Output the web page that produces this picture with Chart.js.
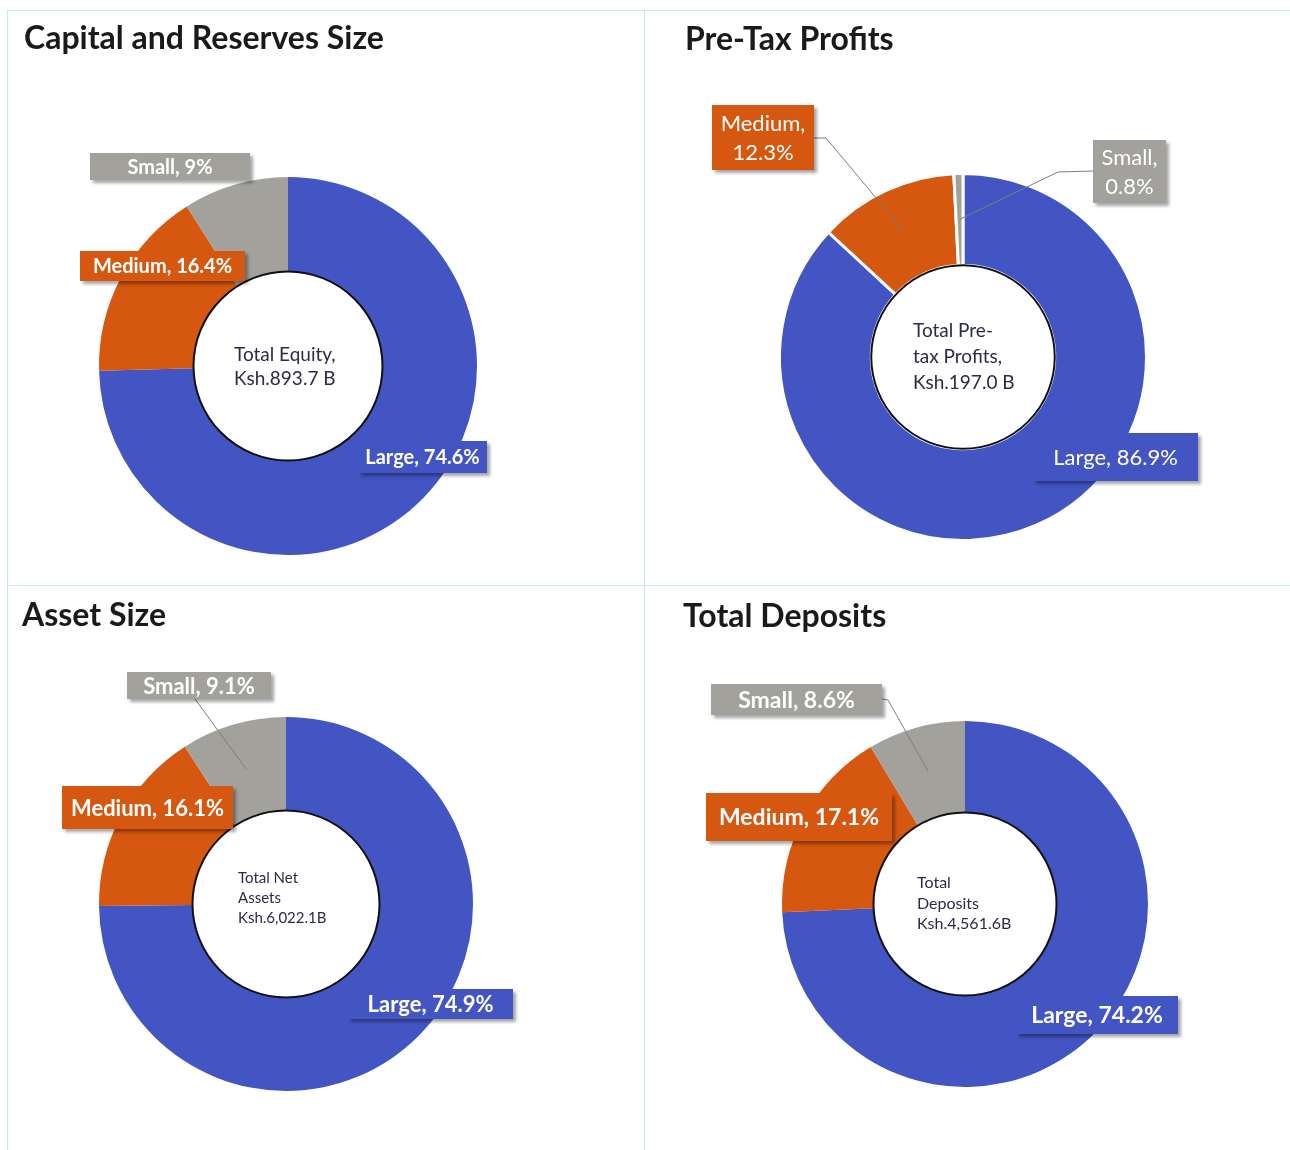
<!DOCTYPE html>
<html lang="en">
    <head>
        <script src="https://cdn.jsdelivr.net/npm/chart.js@4.4.0/dist/chart.umd.min.js"></script>
        <title>Bank size groups</title>
        <style>
            body { margin: 0; background: #fff; width: 1290px; height: 1150px; position: relative; overflow: hidden; }
            .panel { position: absolute; }
            .panel canvas { position: absolute; left: 0; top: 0; }
            .title { position: absolute; font-family: Lato, sans-serif; font-weight: bold; font-size: 32px; color: #1a1a1a; white-space: nowrap; }
            .rule { position: absolute; background: #c4ebf0; }
        </style>
    </head>
    <body>
        <div class="rule" style="left:7px; top:10px; width:1283px; height:1px;"></div>
        <div class="rule" style="left:7px; top:585px; width:1283px; height:1px;"></div>
        <div class="rule" style="left:7px; top:10px; width:1px; height:1140px;"></div>
        <div class="rule" style="left:644px; top:10px; width:1px; height:1140px;"></div>

        <div class="panel" style="left:0; top:0; width:645px; height:580px;"><canvas id="equityChart"></canvas></div>
        <div class="panel" style="left:645px; top:0; width:645px; height:580px;"><canvas id="profitChart"></canvas></div>
        <div class="panel" style="left:0; top:580px; width:645px; height:570px;"><canvas id="assetChart"></canvas></div>
        <div class="panel" style="left:645px; top:580px; width:645px; height:570px;"><canvas id="depositChart"></canvas></div>

        <div class="title" style="left:24px; top:17px;">Capital and Reserves Size</div>
        <div class="title" style="left:685px; top:18px;">Pre-Tax Profits</div>
        <div class="title" style="left:22px; top:594px;">Asset Size</div>
        <div class="title" style="left:683px; top:595px;">Total Deposits</div>

        <script>
            // data
            const segments = ['Large', 'Medium', 'Small'];
            const equityShares = [74.6, 16.4, 9];
            const profitShares = [86.9, 12.3, 0.8];
            const assetShares = [74.9, 16.1, 9.1];
            const depositShares = [74.2, 17.1, 8.6];

            const equityCenter = ['Total Equity,', 'Ksh.893.7 B'];
            const profitCenter = ['Total Pre-', 'tax Profits,', 'Ksh.197.0 B'];
            const assetCenter = ['Total Net', 'Assets', 'Ksh.6,022.1B'];
            const depositCenter = ['Total', 'Deposits', 'Ksh.4,561.6B'];

            const colors = ['#4355c3', '#d6570f', '#a3a19c'];

            // draws centre disc, leader lines and boxed labels
            const decorations = {
                id: 'decorations',
                afterDraw(chart, args, opts) {
                    const ctx = chart.ctx;
                    const meta = chart.getDatasetMeta(0);
                    const arc0 = meta.data[0];
                    const cx = arc0.x, cy = arc0.y;
                    const inner = arc0.innerRadius, outer = arc0.outerRadius;
                    const values = chart.data.datasets[0].data;
                    const labels = chart.data.labels;

                    ctx.save();
                    // white centre disc
                    ctx.beginPath();
                    ctx.arc(cx, cy, inner, 0, Math.PI * 2);
                    ctx.fillStyle = '#fff';
                    ctx.fill();
                    ctx.lineWidth = 2;
                    ctx.strokeStyle = '#111';
                    ctx.stroke();

                    // centre text
                    ctx.fillStyle = '#2a2b4a';
                    ctx.font = opts.centerSize + 'px Lato, sans-serif';
                    ctx.textAlign = 'left';
                    ctx.textBaseline = 'middle';
                    opts.centerLines.forEach((line, i) => {
                        ctx.fillText(line, opts.centerX, opts.centerY + i * opts.centerGap);
                    });

                    // leader lines
                    opts.boxes.forEach((b, i) => {
                        if (!b.leader) return;
                        const a = meta.data[i];
                        const mid = (a.startAngle + a.endAngle) / 2;
                        const rr = (inner + outer) / 2;
                        const tx = cx + Math.cos(mid) * rr;
                        const ty = cy + Math.sin(mid) * rr;
                        ctx.beginPath();
                        ctx.moveTo(b.leader[0], b.leader[1]);
                        if (b.elbow) ctx.lineTo(b.elbow[0], b.elbow[1]);
                        ctx.lineTo(tx, ty);
                        ctx.strokeStyle = '#7d7d7d';
                        ctx.lineWidth = 1;
                        ctx.stroke();
                    });

                    // label boxes
                    opts.boxes.forEach((b, i) => {
                        ctx.save();
                        ctx.shadowColor = 'rgba(0,0,0,0.35)';
                        ctx.shadowOffsetX = 3;
                        ctx.shadowOffsetY = 3;
                        ctx.shadowBlur = 3;
                        ctx.fillStyle = colors[i];
                        ctx.fillRect(b.x, b.y, b.w, b.h);
                        ctx.restore();

                        ctx.fillStyle = '#fff';
                        ctx.font = opts.labelWeight + ' ' + opts.labelSize + 'px Lato, sans-serif';
                        ctx.textAlign = 'center';
                        ctx.textBaseline = 'middle';
                        const lines = b.wrap
                            ? [labels[i] + ',', values[i] + '%']
                            : [labels[i] + ', ' + values[i] + '%'];
                        const gap = opts.labelSize * 1.35;
                        const top = b.y + b.h / 2 - gap * (lines.length - 1) / 2;
                        lines.forEach((t, k) => ctx.fillText(t, b.x + b.w / 2, top + k * gap + 1));
                    });
                    ctx.restore();
                }
            };

            function makeDonut(id, w, h, values, pad, border, deco) {
                const el = document.getElementById(id);
                el.width = w;
                el.height = h;
                return new Chart(el.getContext('2d'), {
                    type: 'doughnut',
                    plugins: [decorations],
                    data: {
                        labels: segments,
                        datasets: [{
                            data: values,
                            backgroundColor: colors,
                            borderColor: '#fff',
                            borderWidth: border
                        }]
                    },
                    options: {
                        responsive: false,
                        animation: false,
                        cutout: '50%',
                        layout: { padding: pad },
                        plugins: {
                            legend: { display: false },
                            tooltip: { enabled: false },
                            decorations: deco
                        }
                    }
                });
            }

            //CAPITAL AND RESERVES
            makeDonut('equityChart', 645, 580, equityShares,
                { left: 99, top: 177, right: 168, bottom: 25 }, 0, {
                    centerLines: equityCenter, centerX: 234, centerY: 355, centerGap: 24, centerSize: 19,
                    labelSize: 20, labelWeight: 'bold',
                    boxes: [
                        { x: 358, y: 441, w: 129, h: 32 },
                        { x: 80, y: 251, w: 165, h: 30 },
                        { x: 90, y: 153, w: 160, h: 27 }
                    ]
                });

            //PRE-TAX PROFITS
            makeDonut('profitChart', 645, 580, profitShares,
                { left: 133, top: 172, right: 142, bottom: 38 }, 3, {
                    centerLines: profitCenter, centerX: 268, centerY: 331, centerGap: 26, centerSize: 19,
                    labelSize: 22, labelWeight: 'normal',
                    boxes: [
                        { x: 388, y: 433, w: 165, h: 48 },
                        { x: 67, y: 105, w: 102, h: 65, wrap: true, leader: [169, 138], elbow: [181, 138] },
                        { x: 448, y: 140, w: 73, h: 63, wrap: true, leader: [448, 171], elbow: [413, 172] }
                    ]
                });

            //ASSET SIZE
            makeDonut('assetChart', 645, 570, assetShares,
                { left: 99, top: 137, right: 172, bottom: 59 }, 0, {
                    centerLines: assetCenter, centerX: 238, centerY: 298, centerGap: 20, centerSize: 15,
                    labelSize: 22, labelWeight: 'bold',
                    boxes: [
                        { x: 348, y: 409, w: 165, h: 30 },
                        { x: 62, y: 206, w: 171, h: 43 },
                        { x: 127, y: 92, w: 144, h: 27, leader: [195, 119] }
                    ]
                });

            //TOTAL DEPOSITS
            makeDonut('depositChart', 645, 570, depositShares,
                { left: 137, top: 141, right: 142, bottom: 63 }, 0, {
                    centerLines: depositCenter, centerX: 272, centerY: 303, centerGap: 20.5, centerSize: 16,
                    labelSize: 23, labelWeight: 'bold',
                    boxes: [
                        { x: 371, y: 416, w: 162, h: 38 },
                        { x: 61, y: 213, w: 186, h: 48 },
                        { x: 66, y: 104, w: 171, h: 31, leader: [237, 119], elbow: [243, 120] }
                    ]
                });
        </script>
    </body>
</html>
